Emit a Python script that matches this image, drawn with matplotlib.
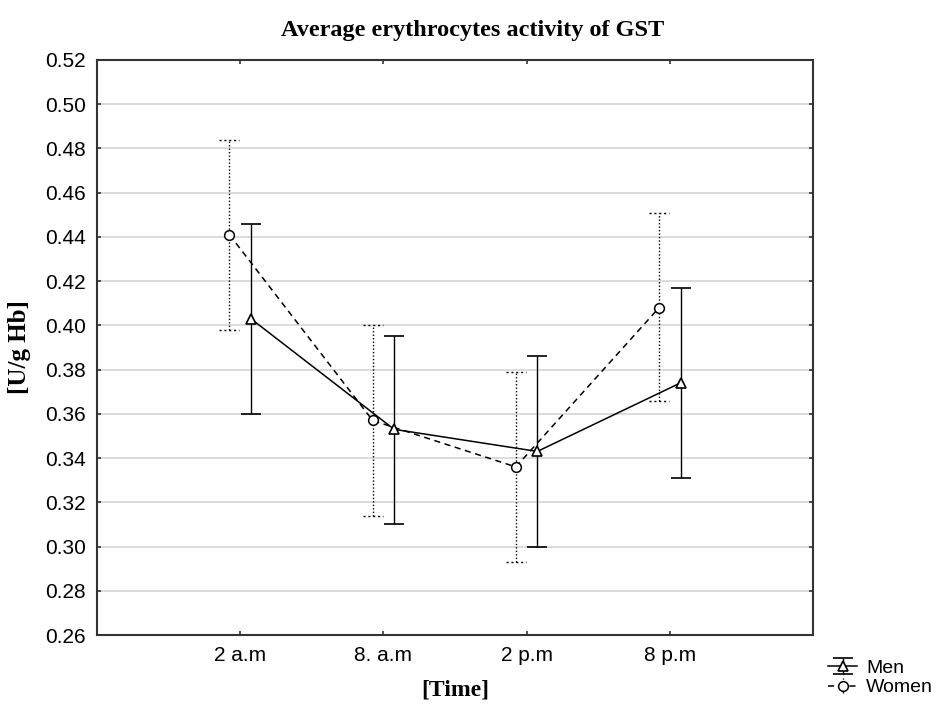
import matplotlib
matplotlib.use("Agg")
import matplotlib.pyplot as plt
import numpy as np
from matplotlib.container import ErrorbarContainer
from matplotlib.legend_handler import HandlerErrorbar

categories = ["2 a.m", "8. a.m", "2 p.m", "8 p.m"]
men_mean = [0.403, 0.353, 0.343, 0.374]
men_low = [0.360, 0.310, 0.300, 0.331]
men_high = [0.446, 0.395, 0.386, 0.417]
women_mean = [0.441, 0.357, 0.336, 0.408]
women_low = [0.398, 0.314, 0.293, 0.366]
women_high = [0.484, 0.400, 0.379, 0.451]
yticks = [0.26, 0.28, 0.30, 0.32, 0.34, 0.36, 0.38, 0.40, 0.42, 0.44, 0.46, 0.48, 0.50, 0.52]

plt.rcParams['font.family'] = ['Liberation Sans', 'DejaVu Sans']

fig = plt.figure(figsize=(9.36, 7.04), dpi=100)
ax = fig.add_axes([0.1036, 0.098, 0.765, 0.8168])

pos = np.arange(1, len(categories) + 1)
off = 0.075

mm = np.array(men_mean)
wm = np.array(women_mean)
men_err = [mm - np.array(men_low), np.array(men_high) - mm]
wom_err = [wm - np.array(women_low), np.array(women_high) - wm]

eb_m = ax.errorbar(pos + off, mm, yerr=men_err, fmt='-', marker='^', color='black',
                   mfc='white', mec='black', ms=7, mew=1.2, lw=1.1, elinewidth=1.0,
                   capsize=7, capthick=1.0, label='Men', zorder=4)
eb_w = ax.errorbar(pos - off, wm, yerr=wom_err, fmt='--', marker='o', color='black',
                   mfc='white', mec='black', ms=7, mew=1.1, lw=1.1, elinewidth=1.0,
                   capsize=0, label='Women', dashes=(4, 3), zorder=3)
for lc in eb_w[2]:
    lc.set_linestyle((0, (1.0, 1.5)))
# dotted caps for women
capw = 0.07
ax.hlines(women_low, pos - off - capw, pos - off + capw, colors='black',
          linestyles=(0, (1.5, 2.0)), lw=1.0, zorder=3)
ax.hlines(women_high, pos - off - capw, pos - off + capw, colors='black',
          linestyles=(0, (1.5, 2.0)), lw=1.0, zorder=3)

ax.set_xlim(0, 5)
ax.set_ylim(0.26, 0.52)
ax.set_xticks(pos)
ax.set_xticklabels(categories)
ax.set_yticks(yticks)
ax.set_yticklabels([f"{v:.2f}" for v in yticks])
ax.yaxis.grid(True, color='#d9d9d9', lw=1.3)
ax.set_axisbelow(True)
ax.tick_params(axis='both', direction='in', length=3, width=1.2, labelsize=15,
               colors='#333333', labelcolor='black', right=True, top=True, pad=8)
for s in ax.spines.values():
    s.set_linewidth(1.5)
    s.set_color('#333333')

serif = ['Liberation Serif', 'DejaVu Serif']
fig.text(0.505, 0.957, "Average erythrocytes activity of GST", ha='center', va='center',
         fontsize=17.5, fontweight='bold', family=serif)
ax.set_xlabel("[Time]", fontsize=17, fontweight='bold', family=serif, labelpad=10)
ax.set_ylabel("[U/g Hb]", fontsize=18, fontweight='bold', family=serif, labelpad=10)

leg = fig.legend(handles=[eb_m, eb_w], labels=['Men', 'Women'], loc='lower left',
                 bbox_to_anchor=(0.866, -0.014), frameon=False, fontsize=14,
                 handlelength=1.5, handletextpad=0.45, labelspacing=0.1,
                 handler_map={ErrorbarContainer: HandlerErrorbar(yerr_size=0.4)})

fig.savefig("out.png", dpi=100)
